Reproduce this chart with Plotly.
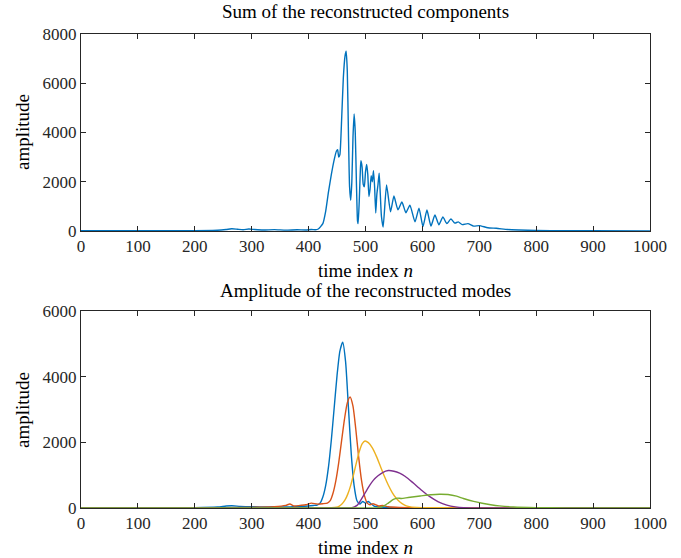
import plotly.graph_objects as go

# ---------------- data ----------------
sum_n = [0, 50, 100, 150, 200, 240, 255, 265, 275, 285, 295, 305, 320, 340, 360, 380, 395, 405, 412, 417,
         425, 430, 435, 440, 445, 449, 451, 453, 455, 458, 461, 464, 466, 468, 470, 472, 474, 476, 478, 480,
         482, 484, 486, 487, 489, 491, 492, 494, 496, 498, 500, 502, 504, 506, 508, 510, 512, 514, 516, 518,
         520, 522, 524, 526, 528, 531, 537, 544, 550, 557, 564, 571, 578, 587, 594, 601, 608, 615, 622, 629,
         636, 643, 650, 657, 663, 670, 680, 690, 700, 715, 730, 750, 770, 800, 850, 900, 1000]
sum_amp = [15, 10, 12, 10, 15, 30, 60, 90, 70, 50, 80, 60, 40, 55, 35, 50, 40, 60, 50, 80,
           300, 800, 1600, 2300, 2900, 3250, 3300, 3000, 3100, 4500, 6200, 7100, 7300, 6500, 4000, 1800, 1250, 2000, 3800, 4750,
           4000, 2000, 400, 300, 1200, 2500, 2850, 2600, 1900, 1800, 2400, 2700, 2300, 1400, 1700, 2250, 2000, 2450, 1800, 730,
           1500, 1900, 2350, 1500, 600, 160, 1870, 780, 1420, 860, 1180, 740, 1050, 370, 930, 180, 850, 200, 650, 250,
           570, 300, 490, 320, 370, 260, 300, 200, 220, 130, 110, 60, 40, 20, 10, 8, 5]

m1_n = [0, 200, 240, 255, 265, 280, 300, 320, 340, 360, 380, 400, 410, 415, 420, 425, 430, 435, 440, 445,
        450, 455, 460, 465, 470, 475, 480, 485, 490, 495, 500, 505, 510, 515, 520, 540, 600, 700, 1000]
m1_amp = [5, 10, 30, 60, 70, 50, 40, 30, 40, 30, 50, 60, 80, 90, 143, 333, 680, 1260, 2080, 3060,
          4040, 4780, 5050, 4460, 3060, 1640, 680, 220, 120, 200, 150, 200, 120, 60, 40, 20, 10, 5, 3]

m2_n = [0, 200, 300, 340, 360, 367, 375, 385, 395, 405, 415, 425, 433, 438, 443, 448, 453, 458, 463, 468,
        473, 478, 483, 488, 493, 498, 503, 508, 513, 518, 523, 530, 540, 560, 600, 1000]
m2_amp = [2, 5, 20, 40, 80, 120, 60, 80, 100, 150, 120, 130, 150, 223, 456, 840, 1390, 2050, 2700, 3200,
          3380, 3100, 2390, 1550, 840, 385, 148, 100, 130, 100, 60, 80, 40, 20, 10, 3]

m3_n = [0, 400, 440, 449, 454, 459, 464, 469, 474, 479, 484, 489, 494, 499, 505, 512, 519, 526, 533, 540,
        547, 554, 561, 568, 575, 590, 650, 1000]
m3_amp = [1, 3, 10, 25, 60, 128, 245, 430, 690, 1020, 1383, 1715, 1955, 2040, 1990, 1830, 1580, 1280, 975, 700,
          470, 296, 175, 98, 51, 15, 5, 1]

m4_n = [0, 450, 475, 485, 492, 500, 507, 514, 522, 530, 540, 550, 560, 570, 584, 598, 613, 628, 643, 658,
        672, 700, 1000]
m4_amp = [1, 2, 5, 80, 250, 480, 680, 850, 980, 1080, 1140, 1120, 1060, 960, 760, 550, 345, 190, 90, 35,
          10, 3, 1]

m5_n = [0, 500, 520, 530, 540, 549, 556, 563, 575, 596, 615, 630, 645, 660, 672, 690, 705, 720, 735, 760,
        800, 850, 1000]
m5_amp = [1, 2, 5, 40, 150, 260, 300, 290, 320, 365, 405, 420, 410, 360, 290, 200, 145, 100, 65, 30,
          10, 3, 1]

x_ticks = [0, 100, 200, 300, 400, 500, 600, 700, 800, 900, 1000]
top_y_ticks = [0, 2000, 4000, 6000, 8000]
bot_y_ticks = [0, 2000, 4000, 6000]

modes = [(m1_n, m1_amp, "#0072BD"), (m2_n, m2_amp, "#D95319"), (m3_n, m3_amp, "#EDB120"),
         (m4_n, m4_amp, "#7E2F8E"), (m5_n, m5_amp, "#77AC30")]

# ---------------- figure ----------------
W, H = 681, 558
L, R, T, B = 81, 31, 34, 50
ph = H - T - B  # 474


def py(p):
    return (H - B - p) / ph


def px(p):
    return (p - L) / (W - L - R)


FONT = "Liberation Serif"
fig = go.Figure()
fig.add_trace(go.Scatter(x=sum_n, y=sum_amp, mode="lines", line=dict(color="#0072BD", width=1.4, shape="spline", smoothing=0.5),
                         xaxis="x", yaxis="y", showlegend=False, hoverinfo="skip"))
for n, a, c in modes:
    fig.add_trace(go.Scatter(x=n, y=a, mode="lines", line=dict(color=c, width=1.4, shape="spline", smoothing=0.6),
                             xaxis="x2", yaxis="y2", showlegend=False, hoverinfo="skip"))

ax_common = dict(showline=True, mirror="ticks", ticks="inside", ticklen=5, linecolor="#262626",
                 tickcolor="#262626", linewidth=1, showgrid=False, zeroline=False,
                 tickfont=dict(family=FONT, size=17, color="#262626"))

fig.update_layout(
    width=W, height=H, margin=dict(l=L, r=R, t=T, b=B),
    paper_bgcolor="white", plot_bgcolor="white",
    xaxis=dict(domain=[0, 1], range=[0, 1000], tickvals=x_ticks, anchor="y", **ax_common),
    yaxis=dict(domain=[py(231), 1], range=[0, 8000], tickvals=top_y_ticks, anchor="x", **ax_common),
    xaxis2=dict(domain=[0, 1], range=[0, 1000], tickvals=x_ticks, anchor="y2", **ax_common),
    yaxis2=dict(domain=[0, py(311)], range=[0, 6000], tickvals=bot_y_ticks, anchor="x2", **ax_common),
)

tf = dict(family=FONT, size=19, color="#000000")
ann = [
    dict(text="Sum of the reconstructed components", x=0.5, y=py(12)),
    dict(text="time index <i>n</i>", x=0.5, y=py(270)),
    dict(text="Amplitude of the reconstructed modes", x=0.5, y=py(291)),
    dict(text="time index <i>n</i>", x=0.5, y=py(547)),
]
for a in ann:
    fig.add_annotation(xref="paper", yref="paper", xanchor="center", yanchor="middle", showarrow=False,
                       font=tf, **a)
for yc in (132, 410):
    fig.add_annotation(text="amplitude", xref="paper", yref="paper", x=px(22), y=py(yc), textangle=-90,
                       xanchor="center", yanchor="middle", showarrow=False, font=tf)

fig.write_html("out.html", config={"displayModeBar": False},
               post_script="document.body.style.margin='0';document.body.style.overflow='hidden';")
